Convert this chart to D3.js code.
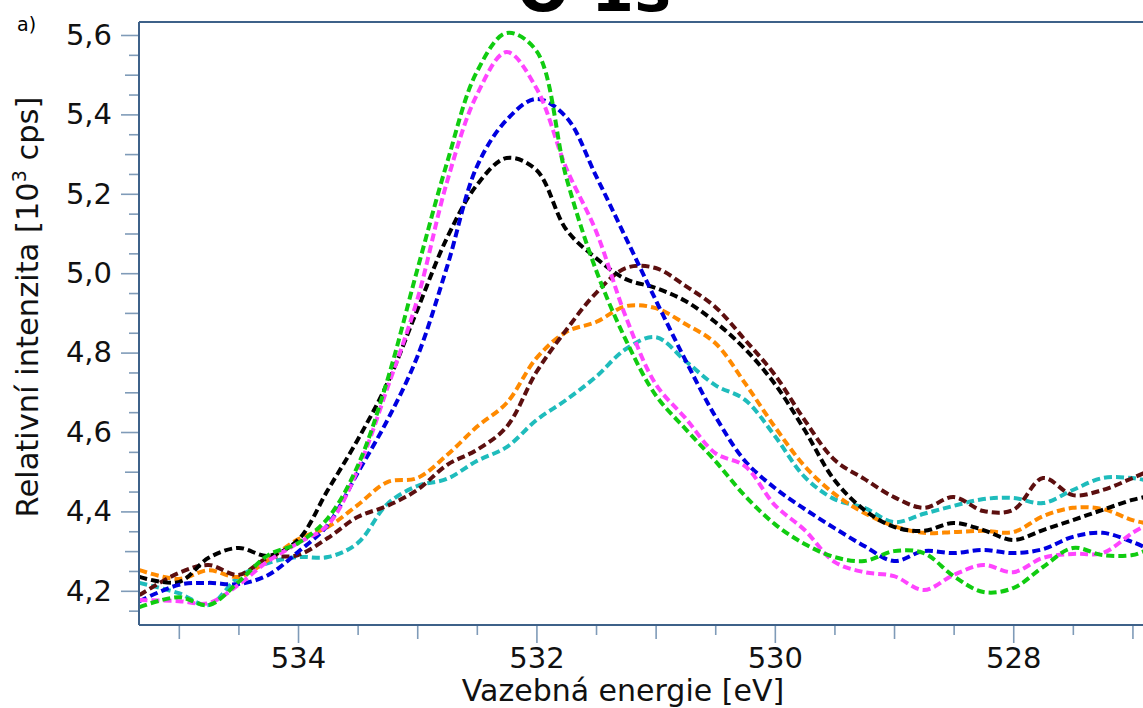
<!DOCTYPE html>
<html>
<head>
<meta charset="utf-8">
<script src="https://cdn.jsdelivr.net/npm/d3@7"></script>
<style>
  html, body { margin: 0; padding: 0; background: #fff; }
  svg { display: block; }
  text { font-family: "DejaVu Sans", Verdana, sans-serif; }
</style>
</head>
<body>
<svg id="chart" width="1143" height="708"></svg>
<script>
// ---- Data (binding energy in eV, intensity in 10^3 cps) ----
const energy = [535.33, 535.0, 534.75, 534.5, 534.25, 534.0, 533.75, 533.5, 533.25, 533.0,
  532.75, 532.5, 532.25, 532.0, 531.75, 531.5, 531.25, 531.0, 530.75, 530.5,
  530.25, 530.0, 529.75, 529.5, 529.25, 529.0, 528.75, 528.5, 528.25, 528.0,
  527.75, 527.5, 527.25, 527.0, 526.9];

const greenSeries = [4.159, 4.184, 4.164, 4.222, 4.290, 4.320, 4.383, 4.514, 4.731, 5.008,
  5.278, 5.507, 5.605, 5.560, 5.242, 5.008, 4.832, 4.693, 4.608, 4.527,
  4.439, 4.368, 4.318, 4.285, 4.275, 4.300, 4.295, 4.237, 4.197, 4.207,
  4.260, 4.308, 4.290, 4.290, 4.300];

const magentaSeries = [4.177, 4.174, 4.169, 4.215, 4.275, 4.320, 4.366, 4.504, 4.711, 4.933,
  5.230, 5.449, 5.557, 5.466, 5.265, 5.106, 4.890, 4.721, 4.635, 4.547,
  4.514, 4.416, 4.353, 4.273, 4.247, 4.237, 4.202, 4.240, 4.265, 4.247,
  4.283, 4.293, 4.295, 4.346, 4.363];

const blueSeries = [4.174, 4.215, 4.220, 4.217, 4.240, 4.298, 4.366, 4.497, 4.630, 4.789,
  5.016, 5.268, 5.386, 5.439, 5.393, 5.245, 5.089, 4.933, 4.781, 4.640,
  4.527, 4.459, 4.406, 4.358, 4.313, 4.275, 4.300, 4.295, 4.303, 4.295,
  4.305, 4.336, 4.346, 4.323, 4.310];

const blackSeries = [4.235, 4.222, 4.283, 4.308, 4.288, 4.328, 4.454, 4.580, 4.723, 4.907,
  5.089, 5.222, 5.290, 5.260, 5.110, 5.038, 4.985, 4.963, 4.930, 4.877,
  4.809, 4.721, 4.605, 4.479, 4.404, 4.361, 4.351, 4.371, 4.353, 4.328,
  4.353, 4.378, 4.404, 4.429, 4.436];

const brownSeries = [4.189, 4.245, 4.265, 4.240, 4.283, 4.290, 4.333, 4.386, 4.414, 4.454,
  4.517, 4.555, 4.613, 4.751, 4.857, 4.950, 5.013, 5.013, 4.968, 4.915,
  4.832, 4.744, 4.630, 4.530, 4.482, 4.436, 4.409, 4.436, 4.401, 4.404,
  4.484, 4.441, 4.454, 4.484, 4.497];

const orangeSeries = [4.252, 4.230, 4.252, 4.235, 4.278, 4.330, 4.361, 4.416, 4.474, 4.484,
  4.542, 4.613, 4.673, 4.786, 4.852, 4.877, 4.917, 4.912, 4.872, 4.824,
  4.723, 4.613, 4.514, 4.444, 4.396, 4.363, 4.346, 4.348, 4.351, 4.348,
  4.388, 4.409, 4.406, 4.378, 4.371];

const cyanSeries = [4.220, 4.194, 4.164, 4.235, 4.270, 4.285, 4.285, 4.320, 4.419, 4.464,
  4.482, 4.527, 4.562, 4.630, 4.681, 4.739, 4.809, 4.839, 4.779, 4.718,
  4.681, 4.590, 4.487, 4.431, 4.409, 4.373, 4.394, 4.414, 4.431, 4.434,
  4.421, 4.454, 4.484, 4.484, 4.479];

const seriesNames = ["cyan", "orange", "brown", "black", "blue", "magenta", "green"];
const seriesColors = ["#1fbcbc", "#ff8a00", "#5c0f0f", "#000000", "#0000e0", "#ff44ff", "#10cc10"];
const seriesValues = [cyanSeries, orangeSeries, brownSeries, blackSeries, blueSeries, magentaSeries, greenSeries];

const yMajorTicks = [4.2, 4.4, 4.6, 4.8, 5.0, 5.2, 5.4, 5.6];
const yMidTicks = [4.3, 4.5, 4.7, 4.9, 5.1, 5.3, 5.5];
const yMinorTicks = [4.15, 4.25, 4.35, 4.45, 4.55, 4.65, 4.75, 4.85, 4.95, 5.05, 5.15, 5.25, 5.35, 5.45, 5.55];
const xMajorTicks = [534, 532, 530, 528];
const xMidTicks = [535, 533, 531, 529, 527];
const xMinorTicks = [534.5, 533.5, 532.5, 531.5, 530.5, 529.5, 528.5, 527.5];

const titleText = "O 1s";
const panelLabel = "a)";
const xTitle = "Vazebná energie [eV]";
const yTitleMain = "Relativní intenzita [10";
const yTitleSup = "3";
const yTitleEnd = " cps]";

// ---- Layout ----
const W = 1143, H = 708;
const M = { l: 139, t: 22, r: 1144, b: 625 };

const svg = d3.select("#chart");

const x = d3.scaleLinear().domain([535.334, 526.903]).range([M.l, M.r]);
const y = d3.scaleLinear().domain([4.1139, 5.6327]).range([M.b, M.t]);

const loc = d3.formatLocale({decimal: ",", thousands: " ", grouping: [3], currency: ["", ""]});
const fmt1 = loc.format(".1f");

const axisColor = "#3e6189";
const tickColor = "#7f9bb8";

// Title (cut off at top, as in the source figure)
svg.append("text")
  .attr("x", 594).attr("y", 11)
  .attr("text-anchor", "middle")
  .attr("font-size", 62).attr("font-weight", "bold")
  .attr("fill", "#000")
  .text(titleText);

// panel label
svg.append("text")
  .attr("x", 17).attr("y", 31)
  .attr("font-size", 19)
  .attr("fill", "#000")
  .text(panelLabel);

// clip
svg.append("defs").append("clipPath").attr("id", "plotclip")
  .append("rect").attr("x", M.l).attr("y", M.t).attr("width", M.r - M.l).attr("height", M.b - M.t);

// lines
const line = d3.line()
  .x((d, i) => x(energy[i]))
  .y(d => y(d))
  .curve(d3.curveCatmullRom.alpha(0.5));

const gLines = svg.append("g").attr("clip-path", "url(#plotclip)");
seriesValues.forEach((vals, k) => {
  gLines.append("path")
    .datum(vals)
    .attr("class", "series-" + seriesNames[k])
    .attr("d", line)
    .attr("fill", "none")
    .attr("stroke", seriesColors[k])
    .attr("stroke-width", 4)
    .attr("stroke-dasharray", "8,4")
    .attr("stroke-linecap", "butt");
});

function styleAxis(g) {
  g.select(".domain").remove();
  g.selectAll(".tick line").attr("stroke", tickColor).attr("stroke-width", 1.6);
}

// ---- Y axis ticks ----
svg.append("g").attr("transform", `translate(${M.l},0)`)
  .call(d3.axisLeft(y).tickValues(yMinorTicks).tickSize(10).tickFormat(""))
  .call(styleAxis);
svg.append("g").attr("transform", `translate(${M.l},0)`)
  .call(d3.axisLeft(y).tickValues(yMidTicks).tickSize(14).tickFormat(""))
  .call(styleAxis);
const yAx = svg.append("g").attr("transform", `translate(${M.l},0)`)
  .call(d3.axisLeft(y).tickValues(yMajorTicks).tickSize(18).tickPadding(9).tickFormat(fmt1))
  .call(styleAxis);
yAx.selectAll(".tick text")
  .attr("font-family", "DejaVu Sans, sans-serif")
  .attr("font-size", 29).attr("fill", "#111");

// ---- X axis ticks ----
svg.append("g").attr("transform", `translate(0,${M.b})`)
  .call(d3.axisBottom(x).tickValues(xMinorTicks).tickSize(10).tickFormat(""))
  .call(styleAxis);
svg.append("g").attr("transform", `translate(0,${M.b})`)
  .call(d3.axisBottom(x).tickValues(xMidTicks).tickSize(14).tickFormat(""))
  .call(styleAxis);
const xAx = svg.append("g").attr("transform", `translate(0,${M.b})`)
  .call(d3.axisBottom(x).tickValues(xMajorTicks).tickSize(18).tickPadding(4).tickFormat(d3.format("d")))
  .call(styleAxis);
xAx.selectAll(".tick text")
  .attr("font-family", "DejaVu Sans, sans-serif")
  .attr("font-size", 29).attr("fill", "#111");

// frame lines
svg.append("line").attr("x1", M.l).attr("x2", M.l).attr("y1", M.t).attr("y2", M.b)
  .attr("stroke", axisColor).attr("stroke-width", 2);
svg.append("line").attr("x1", M.l).attr("x2", W).attr("y1", M.t).attr("y2", M.t)
  .attr("stroke", axisColor).attr("stroke-width", 2);
svg.append("line").attr("x1", M.l).attr("x2", W).attr("y1", M.b).attr("y2", M.b)
  .attr("stroke", axisColor).attr("stroke-width", 2);

// axis titles
svg.append("text")
  .attr("x", 623).attr("y", 701)
  .attr("text-anchor", "middle")
  .attr("font-size", 30).attr("fill", "#111")
  .text(xTitle);

const yt = svg.append("text")
  .attr("transform", "translate(38,307) rotate(-90)")
  .attr("text-anchor", "middle")
  .attr("font-size", 30.5).attr("fill", "#111");
yt.append("tspan").text(yTitleMain);
yt.append("tspan").attr("dy", -12).attr("font-size", 19).text(yTitleSup);
yt.append("tspan").attr("dy", 12).text(yTitleEnd);
</script>
</body>
</html>
